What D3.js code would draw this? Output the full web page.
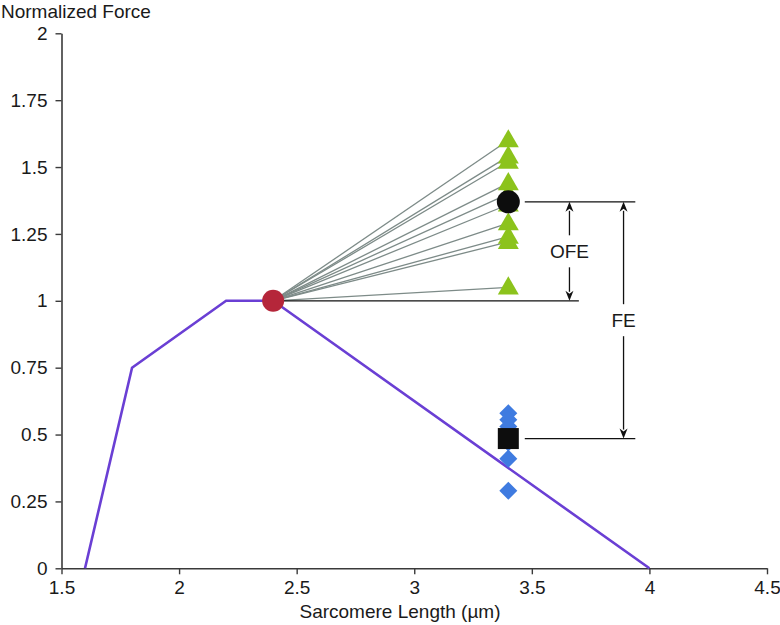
<!DOCTYPE html>
<html><head><meta charset="utf-8">
<script src="https://cdn.jsdelivr.net/npm/d3@7/dist/d3.min.js"></script>
<style>
body{margin:0;background:#fff;}
svg text{font-family:"Liberation Sans",Arial,sans-serif;}
</style></head>
<body><svg id="c" width="780" height="625"></svg>
<script>
// ---- data ----
const xTicks = [1.5, 2, 2.5, 3, 3.5, 4, 4.5];
const yTicks = [0, 0.25, 0.5, 0.75, 1, 1.25, 1.5, 1.75, 2];
const yTickLabels = ["0", "0.25", "0.5", "0.75", "1", "1.25", "1.5", "1.75", "2"];
const curveX = [1.6, 1.8, 2.2, 2.4, 4.0];
const curveY = [0, 0.75, 1, 1, 0];
const refPoint = [2.4, 1.0];
const stretchX = 3.4;
const triangleY = [1.60, 1.54, 1.52, 1.44, 1.40, 1.36, 1.29, 1.24, 1.22, 1.05];
const diamondY = [0.58, 0.555, 0.53, 0.47, 0.41, 0.29];
const meanFE = 1.37;      // black circle
const meanPassive = 0.485; // black square
const xLabel = "Sarcomere Length (\u00b5m)";
const yLabel = "Normalized Force";

// ---- layout ----
const svg = d3.select("#c");
const x = d3.scaleLinear().domain([1.5, 4.5]).range([61.5, 767]);
const y = d3.scaleLinear().domain([0, 2]).range([568.3, 33.3]);

const axisColor = "#3a3a3a";
const ya = svg.append("g").attr("transform", `translate(${x(1.5)},0)`)
  .call(d3.axisLeft(y).tickValues(yTicks).tickFormat((d,i)=>yTickLabels[i]).tickSize(6).tickSizeOuter(0).tickPadding(8));
const xa = svg.append("g").attr("transform", `translate(0,${y(0)})`)
  .call(d3.axisBottom(x).tickValues(xTicks).tickFormat(d=>String(d)).tickSize(6).tickSizeOuter(0).tickPadding(6));
[ya, xa].forEach(g=>{
  g.select(".domain").attr("stroke", axisColor).attr("stroke-width", 1.6);
  g.selectAll(".tick line").attr("stroke", axisColor).attr("stroke-width", 1.4);
  g.selectAll(".tick text").attr("fill", "#1a1a1a").style("font-size", "19px");
});

svg.append("text").attr("x", 1).attr("y", 18).attr("fill", "#1a1a1a").style("font-size", "19px").text(yLabel);
svg.append("text").attr("x", 400).attr("y", 618).attr("text-anchor", "middle").attr("fill", "#1a1a1a").style("font-size", "19px").text(xLabel);

// force-length curve
svg.append("path")
  .datum(curveX.map((v,i)=>[v, curveY[i]]))
  .attr("d", d3.line().x(d=>x(d[0])).y(d=>y(d[1])))
  .attr("fill", "none").attr("stroke", "#6a3fd4").attr("stroke-width", 2.6);

// gray lines to triangles
svg.append("g").selectAll("line").data(triangleY).join("line")
  .attr("x1", x(refPoint[0])).attr("y1", y(refPoint[1]))
  .attr("x2", x(stretchX)).attr("y2", d=>y(d))
  .attr("stroke", "#7d8b88").attr("stroke-width", 1.3);

// black reference lines
const blk = "#111";
const hl = [[refPoint[0], 3.7, 1.0], [3.47, 3.94, meanFE], [3.47, 3.94, meanPassive]];
svg.append("g").selectAll("line").data(hl).join("line")
  .attr("x1", d=>x(d[0])).attr("x2", d=>x(d[1]))
  .attr("y1", d=>y(d[2])).attr("y2", d=>y(d[2]))
  .attr("stroke", blk).attr("stroke-width", 1.3);

// triangles
const tri = d3.symbol().type(d3.symbolTriangle).size(190);
svg.append("g").selectAll("path").data(triangleY).join("path")
  .attr("d", tri).attr("transform", d=>`translate(${x(stretchX)},${y(d)+1})`)
  .attr("fill", "#8cc31c");

// diamonds (square rotated 45°)
const dia = d3.symbol().type(d3.symbolSquare).size(162);
svg.append("g").selectAll("path").data(diamondY).join("path")
  .attr("d", dia).attr("transform", d=>`translate(${x(stretchX)},${y(d)}) rotate(45)`)
  .attr("fill", "#3f7be0");

// red circle
svg.append("circle").attr("cx", x(refPoint[0])).attr("cy", y(refPoint[1])).attr("r", 11).attr("fill", "#b5263a");
// black circle & square
svg.append("circle").attr("cx", x(stretchX)).attr("cy", y(meanFE)).attr("r", 11.5).attr("fill", "#0d0d0d");
svg.append("rect").attr("x", x(stretchX)-10.5).attr("y", y(meanPassive)-10.5).attr("width", 21).attr("height", 21).attr("fill", "#0d0d0d");

// dimension arrows
function dimArrow(xv, top, bot, label, gap) {
  const cx = x(xv), yt = y(top), yb = y(bot), mid = (yt+yb)/2;
  const g = svg.append("g");
  const ah = 9, aw = 4;
  g.append("line").attr("x1", cx).attr("x2", cx).attr("y1", yt+ah).attr("y2", mid-gap).attr("stroke", blk).attr("stroke-width", 1.3);
  g.append("line").attr("x1", cx).attr("x2", cx).attr("y1", mid+gap).attr("y2", yb-ah).attr("stroke", blk).attr("stroke-width", 1.3);
  g.append("path").attr("d", `M${cx},${yt} L${cx-aw},${yt+ah+1} L${cx},${yt+ah-2} L${cx+aw},${yt+ah+1} Z`).attr("fill", blk);
  g.append("path").attr("d", `M${cx},${yb} L${cx-aw},${yb-ah-1} L${cx},${yb-ah+2} L${cx+aw},${yb-ah-1} Z`).attr("fill", blk);
  g.append("text").attr("x", cx).attr("y", mid+7).attr("text-anchor", "middle").attr("fill", "#1a1a1a").style("font-size", "19px").text(label);
}
dimArrow(3.66, meanFE, 1.0, "OFE", 16);
dimArrow(3.89, meanFE, meanPassive, "FE", 16);
</script></body></html>
